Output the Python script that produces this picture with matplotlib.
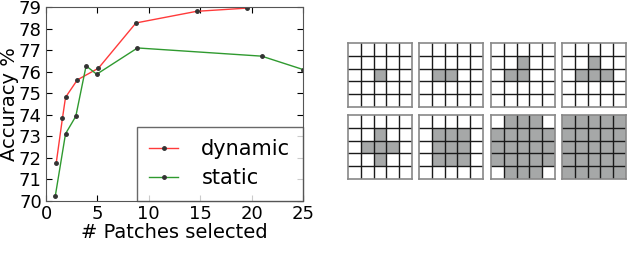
import numpy as np
import matplotlib
matplotlib.use("Agg")
import matplotlib.pyplot as plt

# accuracy vs number of patches
dyn_x = [1.0, 1.6, 1.9, 3.05, 5.1, 8.75, 14.66, 19.6]
dyn_y = [71.78, 73.84, 74.81, 75.62, 76.16, 78.26, 78.8, 78.95]
sta_x = [0.9, 1.9, 2.9, 3.9, 4.93, 8.9, 20.98, 25.0]
sta_y = [70.22, 73.12, 73.93, 76.27, 75.88, 77.1, 76.72, 76.1]

x_ticks = [0, 5, 10, 15, 20, 25]
y_ticks = list(range(70, 80))

# selected patches on the 5x5 grid (1 = selected), row 0 at the top
mask_1 = [[0, 0, 0, 0, 0], [0, 0, 0, 0, 0], [0, 0, 1, 0, 0], [0, 0, 0, 0, 0], [0, 0, 0, 0, 0]]
mask_2 = [[0, 0, 0, 0, 0], [0, 0, 0, 0, 0], [0, 1, 1, 0, 0], [0, 0, 0, 0, 0], [0, 0, 0, 0, 0]]
mask_3 = [[0, 0, 0, 0, 0], [0, 0, 1, 0, 0], [0, 1, 1, 0, 0], [0, 0, 0, 0, 0], [0, 0, 0, 0, 0]]
mask_4 = [[0, 0, 0, 0, 0], [0, 0, 1, 0, 0], [0, 1, 1, 1, 0], [0, 0, 0, 0, 0], [0, 0, 0, 0, 0]]
mask_5 = [[0, 0, 0, 0, 0], [0, 0, 1, 0, 0], [0, 1, 1, 1, 0], [0, 0, 1, 0, 0], [0, 0, 0, 0, 0]]
mask_9 = [[0, 0, 0, 0, 0], [0, 1, 1, 1, 0], [0, 1, 1, 1, 0], [0, 1, 1, 1, 0], [0, 0, 0, 0, 0]]
mask_21 = [[0, 1, 1, 1, 0], [1, 1, 1, 1, 1], [1, 1, 1, 1, 1], [1, 1, 1, 1, 1], [0, 1, 1, 1, 0]]
mask_25 = [[1, 1, 1, 1, 1], [1, 1, 1, 1, 1], [1, 1, 1, 1, 1], [1, 1, 1, 1, 1], [1, 1, 1, 1, 1]]
masks = [mask_1, mask_2, mask_3, mask_4, mask_5, mask_9, mask_21, mask_25]

W, H = 640, 257
fig = plt.figure(figsize=(W / 100, H / 100), dpi=100)

# --- line chart ---
ax = fig.add_axes([46 / W, 56 / H, 257 / W, 194 / H])
ax.plot(dyn_x, dyn_y, color="#ff3a3a", lw=1.0, marker=".", ms=5,
        mfc="#333333", mec="#333333", label="dynamic")
ax.plot(sta_x, sta_y, color="#2f9a2f", lw=1.0, marker=".", ms=5,
        mfc="#333333", mec="#333333", label="static")
ax.set_xlim(0, 25)
ax.set_ylim(70, 79)
ax.set_xticks(x_ticks)
ax.set_yticks(y_ticks)
ax.tick_params(direction="in", top=True, right=True, labelsize=13, length=4)
ax.tick_params(axis="x", pad=3)
ax.tick_params(axis="y", pad=3)
ax.set_xlabel("# Patches selected", fontsize=14, labelpad=0)
ax.set_ylabel("Accuracy %", fontsize=14, labelpad=0)
for s in ax.spines.values():
    s.set_color("#555555")
leg = ax.legend(loc="lower right", fontsize=15, borderaxespad=0, fancybox=False,
                handlelength=1.4, handletextpad=1.1, borderpad=0.6, labelspacing=0.45)
leg.get_frame().set_edgecolor("#444444")
leg.get_frame().set_linewidth(1.0)

# --- patch grids ---
x_left = [348, 419, 491, 562]
y_top = [43, 115]
cmap = matplotlib.colors.ListedColormap(["white", "#a6a8a8"])
for i, m in enumerate(masks):
    r, c = divmod(i, 4)
    gx = fig.add_axes([x_left[c] / W, (H - y_top[r] - 64) / H, 64 / W, 64 / H])
    gx.imshow(np.array(m), cmap=cmap, vmin=0, vmax=1, extent=(0, 5, 5, 0),
              interpolation="nearest", aspect="auto")
    for k in range(1, 5):
        gx.axhline(k, color="#1a1a1a", lw=1.0)
        gx.axvline(k, color="#1a1a1a", lw=1.0)
    gx.set_xlim(0, 5)
    gx.set_ylim(5, 0)
    gx.set_xticks([])
    gx.set_yticks([])
    for s in gx.spines.values():
        s.set_color("#888888")
        s.set_linewidth(1.2)

fig.savefig("out.png", dpi=100)
